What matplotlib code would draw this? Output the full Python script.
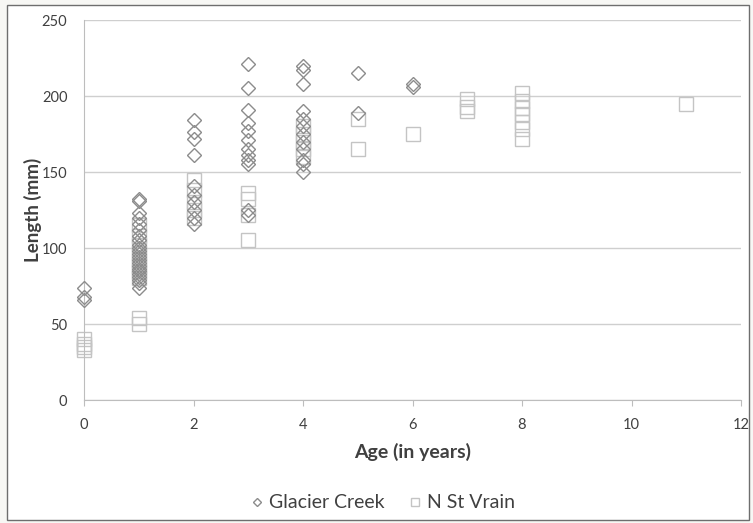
import matplotlib
matplotlib.use("Agg")
import matplotlib.pyplot as plt

plt.rcParams['font.family'] = ['Lato', 'DejaVu Sans']

# Glacier Creek (diamonds)
gc_age = [0, 0, 0,
          1, 1, 1, 1, 1, 1, 1, 1, 1, 1, 1, 1, 1, 1, 1, 1, 1, 1, 1, 1, 1, 1, 1,
          2, 2, 2, 2, 2, 2, 2, 2, 2, 2,
          3, 3, 3, 3, 3, 3, 3, 3, 3, 3, 3, 3,
          4, 4, 4, 4, 4, 4, 4, 4, 4, 4, 4, 4,
          5, 5, 6, 6]
gc_len = [74, 68, 66,
          132, 131, 123, 120, 116, 112, 108, 105, 102, 100, 98, 96, 94, 92, 90, 88, 86, 85, 83, 81, 79, 77, 74,
          184, 176, 172, 161, 141, 135, 130, 125, 120, 116,
          221, 205, 191, 182, 177, 171, 165, 161, 158, 155, 125, 122,
          220, 217, 208, 190, 185, 180, 175, 170, 165, 158, 155, 150,
          215, 189, 208, 206]

# N St Vrain (squares)
nsv_age = [0, 0, 0, 0,
           1, 1, 1, 1, 1, 1, 1, 1, 1, 1,
           2, 2, 2, 2, 2,
           3, 3, 3, 3,
           4, 4, 4, 4, 4,
           5, 5, 6,
           7, 7, 7,
           8, 8, 8, 8, 8, 8, 8,
           11]
nsv_len = [40, 37, 35, 33,
           54, 50, 115, 108, 102, 97, 92, 88, 84, 80,
           145, 138, 130, 125, 120,
           136, 132, 122, 105,
           180, 175, 170, 165, 160,
           185, 165, 175,
           198, 193, 190,
           202, 197, 192, 188, 183, 178, 172,
           195]

x_ticks = [0, 2, 4, 6, 8, 10, 12]
y_ticks = [0, 50, 100, 150, 200, 250]

W, H = 753, 523
fig = plt.figure(figsize=(W/100, H/100), dpi=100)
fig.patch.set_facecolor('#f7f7f4')
bg = plt.Rectangle((7/W, 1 - 520/H), (749-7)/W, (520-5)/H, transform=fig.transFigure,
                   facecolor='white', edgecolor='#6e6e6e', linewidth=1.0, zorder=-10)
fig.patches.append(bg)

ax = fig.add_axes([84/W, 1 - 400/H, (741-84)/W, (400-20)/H])
ax.patch.set_alpha(0)

ax.plot(gc_age, gc_len, linestyle='none', marker='D', markersize=7.5,
        markerfacecolor='none', markeredgecolor='#8c8c8c', markeredgewidth=1.0,
        label='Glacier Creek', zorder=3, clip_on=False)
ax.plot(nsv_age, nsv_len, linestyle='none', marker='s', markersize=10,
        markerfacecolor='none', markeredgecolor='#c4c4c4', markeredgewidth=1.0,
        label='N St Vrain', zorder=2, clip_on=False)

ax.set_xlim(0, 12)
ax.set_ylim(0, 250)
ax.set_xticks(x_ticks)
ax.set_yticks(y_ticks)
ax.yaxis.grid(True, color='#cfcfcf', linewidth=1.0)
ax.set_axisbelow(True)
for s in ['top', 'right']:
    ax.spines[s].set_visible(False)
ax.spines['left'].set_color('#bdbdbd')
ax.spines['bottom'].set_color('#bdbdbd')
ax.tick_params(axis='both', colors='#bdbdbd', labelcolor='#404040', labelsize=10.5, length=4)
ax.tick_params(axis='x', pad=9)
ax.tick_params(axis='y', length=0, pad=12)

ax.set_xlabel('Age (in years)', fontsize=14, fontweight='bold', color='#404040', labelpad=8)
ax.set_ylabel('Length (mm)', fontsize=13.5, fontweight='bold', color='#404040', labelpad=0)

fig.legend(loc='center', bbox_to_anchor=(0.505, 1 - 503/H), ncol=2, frameon=False,
           fontsize=14, handletextpad=0.0, columnspacing=1.0, labelcolor='#404040',
           markerscale=0.6, handlelength=1.2)

fig.savefig('out.png', dpi=100, facecolor=fig.get_facecolor())
